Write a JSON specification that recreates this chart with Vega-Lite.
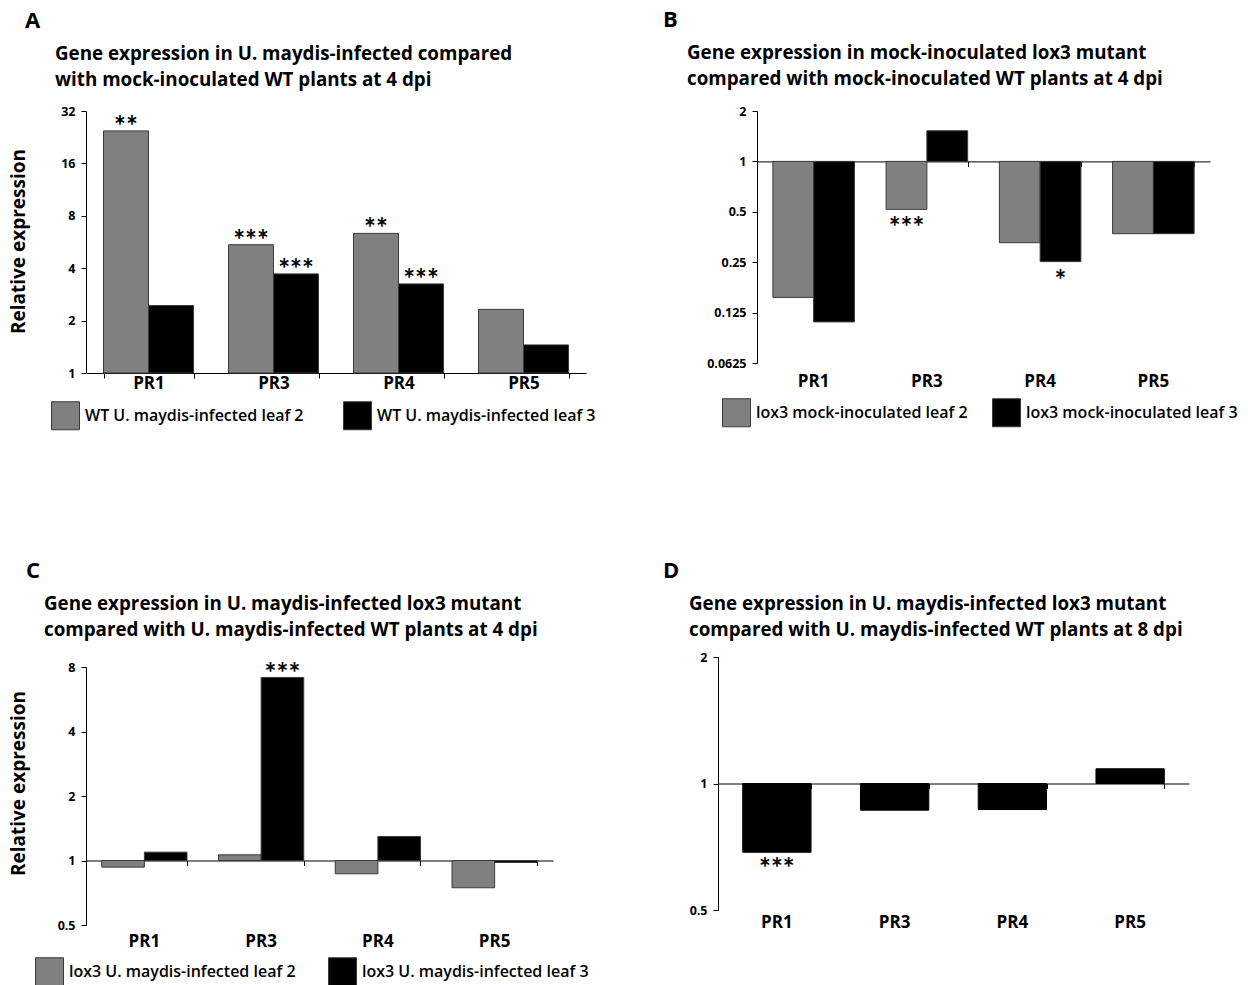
{
  "$schema": "https://vega.github.io/schema/vega-lite/v6.json",
  "padding": {"left": 8, "top": 9, "right": 0, "bottom": 0},
  "background": "white",
  "config": {
    "font": "Open Sans",
    "view": {"stroke": null},
    "axis": {"grid": false, "domainColor": "black", "tickColor": "black", "labelColor": "black", "labelFont": "Open Sans", "titleFont": "Open Sans", "titleColor": "black"},
    "title": {"font": "Open Sans", "fontWeight": "bold", "color": "black"},
    "legend": {"labelFont": "Open Sans", "labelColor": "black", "labelLimit": 400, "labelFontSize": 16, "labelFontWeight": 600}
  },
  "datasets": {
    "panelA": [
      {"gene": "PR1", "leaf": "WT U. maydis-infected leaf 2", "value": 24.6, "sig": "**"},
      {"gene": "PR1", "leaf": "WT U. maydis-infected leaf 3", "value": 2.44, "sig": ""},
      {"gene": "PR3", "leaf": "WT U. maydis-infected leaf 2", "value": 5.46, "sig": "***"},
      {"gene": "PR3", "leaf": "WT U. maydis-infected leaf 3", "value": 3.71, "sig": "***"},
      {"gene": "PR4", "leaf": "WT U. maydis-infected leaf 2", "value": 6.34, "sig": "**"},
      {"gene": "PR4", "leaf": "WT U. maydis-infected leaf 3", "value": 3.25, "sig": "***"},
      {"gene": "PR5", "leaf": "WT U. maydis-infected leaf 2", "value": 2.32, "sig": ""},
      {"gene": "PR5", "leaf": "WT U. maydis-infected leaf 3", "value": 1.45, "sig": ""}
    ],
    "panelB": [
      {"gene": "PR1", "leaf": "lox3 mock-inoculated leaf 2", "value": 0.154, "sig": ""},
      {"gene": "PR1", "leaf": "lox3 mock-inoculated leaf 3", "value": 0.110, "sig": ""},
      {"gene": "PR3", "leaf": "lox3 mock-inoculated leaf 2", "value": 0.517, "sig": "***"},
      {"gene": "PR3", "leaf": "lox3 mock-inoculated leaf 3", "value": 1.524, "sig": ""},
      {"gene": "PR4", "leaf": "lox3 mock-inoculated leaf 2", "value": 0.327, "sig": ""},
      {"gene": "PR4", "leaf": "lox3 mock-inoculated leaf 3", "value": 0.252, "sig": "*"},
      {"gene": "PR5", "leaf": "lox3 mock-inoculated leaf 2", "value": 0.370, "sig": ""},
      {"gene": "PR5", "leaf": "lox3 mock-inoculated leaf 3", "value": 0.370, "sig": ""}
    ],
    "panelC": [
      {"gene": "PR1", "leaf": "lox3 U. maydis-infected leaf 2", "value": 0.931, "sig": ""},
      {"gene": "PR1", "leaf": "lox3 U. maydis-infected leaf 3", "value": 1.094, "sig": ""},
      {"gene": "PR3", "leaf": "lox3 U. maydis-infected leaf 2", "value": 1.063, "sig": ""},
      {"gene": "PR3", "leaf": "lox3 U. maydis-infected leaf 3", "value": 7.15, "sig": "***"},
      {"gene": "PR4", "leaf": "lox3 U. maydis-infected leaf 2", "value": 0.867, "sig": ""},
      {"gene": "PR4", "leaf": "lox3 U. maydis-infected leaf 3", "value": 1.294, "sig": ""},
      {"gene": "PR5", "leaf": "lox3 U. maydis-infected leaf 2", "value": 0.746, "sig": ""},
      {"gene": "PR5", "leaf": "lox3 U. maydis-infected leaf 3", "value": 0.979, "sig": ""}
    ],
    "panelD": [
      {"gene": "PR1", "value": 0.686, "sig": "***"},
      {"gene": "PR3", "value": 0.864, "sig": ""},
      {"gene": "PR4", "value": 0.867, "sig": ""},
      {"gene": "PR5", "value": 1.084, "sig": ""}
    ]
  },
  "concat": [
    {
      "title": {"text": "A", "anchor": "start", "frame": "group", "dx": -61, "fontSize": 22, "offset": 12},
      "resolve": {"scale": {"color": "independent", "xOffset": "independent"}, "legend": {"color": "independent"}},
      "vconcat": [
        {
          "width": 500,
          "height": 262,
          "title": {"text": ["Gene expression in U. maydis-infected compared", "with mock-inoculated WT plants at 4 dpi"], "anchor": "start", "frame": "group", "dx": -31, "fontSize": 18.8, "lineHeight": 26, "offset": 15},
          "data": {"name": "panelA"},
          "encoding": {
            "x": {"field": "gene", "type": "nominal", "sort": null, "scale": {"paddingInner": 0.28, "paddingOuter": 0.14},
              "axis": {"title": null, "labelAngle": 0, "labelFontSize": 17, "labelFontWeight": "bold", "tickBand": "extent", "tickSize": 5, "labelPadding": -3}},
            "xOffset": {"field": "leaf", "type": "nominal", "sort": null, "scale": {"paddingInner": 0, "paddingOuter": 0}}
          },
          "layer": [
            {
              "mark": {"type": "bar", "stroke": "#3a3a3a", "strokeWidth": 1},
              "encoding": {
                "y": {"field": "value", "type": "quantitative", "scale": {"type": "log", "base": 2, "domain": [1, 32]},
                  "axis": {"values": [1, 2, 4, 8, 16, 32], "format": "~g", "title": "Relative expression", "titleFontSize": 19, "titleFontWeight": "bold", "titleX": -58, "titleY": 130, "labelFontSize": 12.5, "labelFontWeight": "bold", "tickSize": 5, "labelPadding": 6}},
                "y2": {"datum": 1},
                "color": {"field": "leaf", "type": "nominal", "sort": null,
                  "scale": {"domain": ["WT U. maydis-infected leaf 2", "WT U. maydis-infected leaf 3"], "range": ["#808080", "#000000"]},
                  "legend": {"title": null, "orient": "none", "legendX": -35, "legendY": 290, "direction": "horizontal", "symbolType": "square", "symbolSize": 784, "symbolStrokeColor": "#3a3a3a", "symbolStrokeWidth": 1, "symbolOpacity": 1, "labelOffset": 5, "columnPadding": 37, "padding": 0}}
              }
            },
            {
              "mark": {"type": "text", "font": "Lato", "fontSize": 28, "fontWeight": "bold", "baseline": "alphabetic", "dy": 5, "color": "black"},
              "encoding": {
                "y": {"field": "value", "type": "quantitative"},
                "text": {"field": "sig", "type": "nominal"}
              }
            }
          ]
        }
      ]
    },
    {
      "title": {"text": "B", "anchor": "start", "frame": "group", "dx": -94, "fontSize": 22, "offset": 12},
      "resolve": {"scale": {"color": "independent", "xOffset": "independent"}, "legend": {"color": "independent"}},
      "vconcat": [
        {
          "width": 453,
          "height": 252,
          "title": {"text": ["Gene expression in mock-inoculated lox3 mutant", "compared with mock-inoculated WT plants at 4 dpi"], "anchor": "start", "frame": "group", "dx": -70, "fontSize": 18.8, "lineHeight": 26, "offset": 16},
          "data": {"name": "panelB"},
          "encoding": {
            "x": {"field": "gene", "type": "nominal", "sort": null, "scale": {"paddingInner": 0.28, "paddingOuter": 0.14},
              "axis": {"title": null, "labelAngle": 0, "labelFontSize": 17, "labelFontWeight": "bold", "domain": false, "ticks": false, "tickSize": 0, "labelPadding": 10}},
            "xOffset": {"field": "leaf", "type": "nominal", "sort": null, "scale": {"paddingInner": 0, "paddingOuter": 0}}
          },
          "layer": [
            {
              "mark": {"type": "bar", "stroke": "#3a3a3a", "strokeWidth": 1},
              "encoding": {
                "y": {"field": "value", "type": "quantitative", "scale": {"type": "log", "base": 2, "domain": [0.0625, 2]},
                  "axis": {"values": [0.0625, 0.125, 0.25, 0.5, 1, 2], "format": "~g", "title": null, "labelFontSize": 12.5, "labelFontWeight": "bold", "tickSize": 5, "labelPadding": 6}},
                "y2": {"datum": 1},
                "color": {"field": "leaf", "type": "nominal", "sort": null,
                  "scale": {"domain": ["lox3 mock-inoculated leaf 2", "lox3 mock-inoculated leaf 3"], "range": ["#808080", "#000000"]},
                  "legend": {"title": null, "orient": "none", "legendX": -35, "legendY": 287, "direction": "horizontal", "symbolType": "square", "symbolSize": 784, "symbolStrokeColor": "#3a3a3a", "symbolStrokeWidth": 1, "symbolOpacity": 1, "labelOffset": 5, "columnPadding": 22, "padding": 0}}
              }
            },
            {
              "mark": {"type": "text", "font": "Lato", "fontSize": 28, "fontWeight": "bold", "baseline": "alphabetic", "dy": 28, "color": "black"},
              "encoding": {
                "x": {"field": "gene", "type": "nominal", "sort": null,
                  "axis": {"orient": "top", "offset": -50.4, "labels": false, "title": null, "tickBand": "extent", "tickSize": -5}},
                "y": {"field": "value", "type": "quantitative"},
                "text": {"field": "sig", "type": "nominal"}
              }
            }
          ],
          "resolve": {"axis": {"x": "independent"}}
        }
      ]
    },
    {
      "title": {"text": "C", "anchor": "start", "frame": "group", "dx": -60, "fontSize": 22, "offset": 12},
      "resolve": {"scale": {"color": "independent", "xOffset": "independent"}, "legend": {"color": "independent"}},
      "vconcat": [
        {
          "width": 467,
          "height": 258,
          "title": {"text": ["Gene expression in U. maydis-infected lox3 mutant", "compared with U. maydis-infected WT plants at 4 dpi"], "anchor": "start", "frame": "group", "dx": -42, "fontSize": 18.8, "lineHeight": 26, "offset": 21},
          "data": {"name": "panelC"},
          "encoding": {
            "x": {"field": "gene", "type": "nominal", "sort": null, "scale": {"paddingInner": 0.27, "paddingOuter": 0.135},
              "axis": {"title": null, "labelAngle": 0, "labelFontSize": 17, "labelFontWeight": "bold", "domain": false, "ticks": false, "tickSize": 0, "labelPadding": 8}},
            "xOffset": {"field": "leaf", "type": "nominal", "sort": null, "scale": {"paddingInner": 0, "paddingOuter": 0}}
          },
          "layer": [
            {
              "mark": {"type": "bar", "stroke": "#3a3a3a", "strokeWidth": 1},
              "encoding": {
                "y": {"field": "value", "type": "quantitative", "scale": {"type": "log", "base": 2, "domain": [0.5, 8]},
                  "axis": {"values": [0.5, 1, 2, 4, 8], "format": "~g", "title": "Relative expression", "titleFontSize": 19, "titleFontWeight": "bold", "titleX": -58, "titleY": 116, "labelFontSize": 12.5, "labelFontWeight": "bold", "tickSize": 5, "labelPadding": 6}},
                "y2": {"datum": 1},
                "color": {"field": "leaf", "type": "nominal", "sort": null,
                  "scale": {"domain": ["lox3 U. maydis-infected leaf 2", "lox3 U. maydis-infected leaf 3"], "range": ["#808080", "#000000"]},
                  "legend": {"title": null, "orient": "none", "legendX": -51, "legendY": 290, "direction": "horizontal", "symbolType": "square", "symbolSize": 784, "symbolStrokeColor": "#3a3a3a", "symbolStrokeWidth": 1, "symbolOpacity": 1, "labelOffset": 5, "columnPadding": 30, "padding": 0}}
              }
            },
            {
              "mark": {"type": "text", "font": "Lato", "fontSize": 28, "fontWeight": "bold", "baseline": "alphabetic", "dy": 6, "color": "black"},
              "encoding": {
                "x": {"field": "gene", "type": "nominal", "sort": null,
                  "axis": {"orient": "top", "offset": -193.5, "labels": false, "title": null, "tickBand": "extent", "tickSize": -5}},
                "y": {"field": "value", "type": "quantitative"},
                "text": {"field": "sig", "type": "nominal"}
              }
            }
          ],
          "resolve": {"axis": {"x": "independent"}}
        }
      ]
    },
    {
      "title": {"text": "D", "anchor": "start", "frame": "group", "dx": -55, "fontSize": 22, "offset": 12},
      "vconcat": [
        {
          "width": 471,
          "height": 253,
          "title": {"text": ["Gene expression in U. maydis-infected lox3 mutant", "compared with U. maydis-infected WT plants at 8 dpi"], "anchor": "start", "frame": "group", "dx": -29, "fontSize": 18.8, "lineHeight": 26, "offset": 11},
          "data": {"name": "panelD"},
          "encoding": {
            "x": {"field": "gene", "type": "nominal", "sort": null, "scale": {"paddingInner": 0.42, "paddingOuter": 0.21},
              "axis": {"title": null, "labelAngle": 0, "labelFontSize": 17, "labelFontWeight": "bold", "domain": false, "ticks": false, "tickSize": 0, "labelPadding": 4}}
          },
          "layer": [
            {
              "mark": {"type": "bar", "color": "#000000", "stroke": "#000000", "strokeWidth": 1},
              "encoding": {
                "y": {"field": "value", "type": "quantitative", "scale": {"type": "log", "base": 2, "domain": [0.5, 2]},
                  "axis": {"values": [0.5, 1, 2], "format": "~g", "title": null, "labelFontSize": 12.5, "labelFontWeight": "bold", "tickSize": 5, "labelPadding": 6}},
                "y2": {"datum": 1}
              }
            },
            {
              "mark": {"type": "text", "font": "Lato", "fontSize": 28, "fontWeight": "bold", "baseline": "alphabetic", "dy": 26, "color": "black"},
              "encoding": {
                "x": {"field": "gene", "type": "nominal", "sort": null,
                  "axis": {"orient": "top", "offset": -126.5, "labels": false, "title": null, "tickBand": "extent", "tickSize": -5}},
                "y": {"field": "value", "type": "quantitative"},
                "text": {"field": "sig", "type": "nominal"}
              }
            }
          ],
          "resolve": {"axis": {"x": "independent"}}
        }
      ]
    }
  ],
  "columns": 2,
  "align": "none",
  "spacing": {"row": 128, "column": 67},
  "resolve": {"scale": {"color": "independent", "xOffset": "independent"}, "legend": {"color": "independent"}}
}
